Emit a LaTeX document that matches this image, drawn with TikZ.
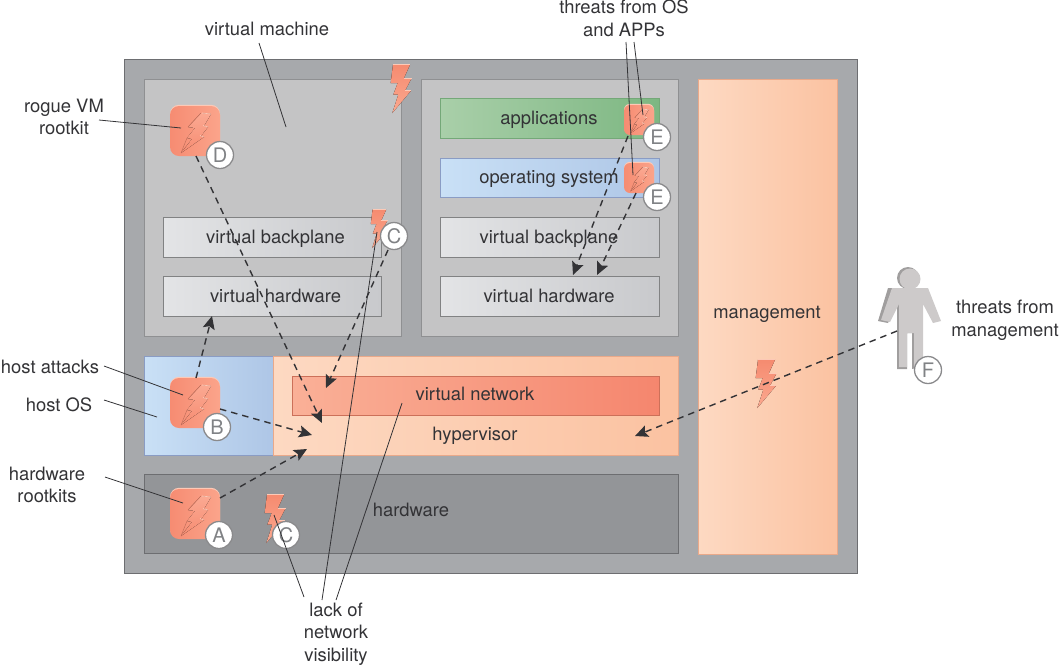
\documentclass[tikz,border=0pt]{standalone}
\usepackage{fontspec}
\setmainfont{TeX Gyre Heros}
\usetikzlibrary{arrows.meta}
\definecolor{ink}{HTML}{333336}
\definecolor{outerg}{HTML}{A7A9AC}
\definecolor{outerl}{HTML}{6D6E71}
\definecolor{vmg}{HTML}{C4C4C5}
\definecolor{vml}{HTML}{8F9092}
\tikzset{
  x=1pt,y=-1pt,
  every node/.style={font=\fontsize{18.4}{22.6}\selectfont,text=ink},
  box/.style={draw,line width=1pt,minimum height=0pt,minimum width=0pt,inner sep=0pt,anchor=north west},
  outerbox/.style={box,fill=outerg,draw=outerl,line width=1.2pt},
  vmbox/.style={box,fill=vmg,draw=vml,line width=1.2pt},
  planebox/.style={box,draw=vml!90!black,left color=HTMLplA,right color=HTMLplB},
  greenbox/.style={box,draw=HTMLgreenL,left color=HTMLgreenA,right color=HTMLgreenB},
  bluebox/.style={box,draw=HTMLblueL,left color=HTMLblueA,right color=HTMLblueB},
  peachbox/.style={box,draw=HTMLpeachL,left color=HTMLpeachA,right color=HTMLpeachB},
  netbox/.style={box,draw=HTMLnetL,left color=HTMLnetA,right color=HTMLnetB},
  hwbox/.style={box,fill=HTMLhw,draw=outerl,line width=1.2pt},
  shieldbox/.style={draw=none,rounded corners=#1,left color=HTMLshA,right color=HTMLshB,inner sep=0pt,
    preaction={fill=HTMLboltH,transform canvas={yshift=1.2pt}}},
  badge/.style={circle,draw=HTMLbadge,line width=1.3pt,fill=white,minimum size=27pt,inner sep=0pt,text=HTMLbadgeT,font=\fontsize{20}{20}\selectfont},
  lbl/.style={align=center,inner sep=1pt},
  leader/.style={draw=ink,line width=.8pt},
  threat/.style={draw=ink,line width=1.4pt,dash pattern=on 6.5pt off 5pt,-{Stealth[length=13pt,width=12pt,inset=2.5pt]}},
  bolt/.pic={
    \fill[bottom color=HTMLboltB,top color=HTMLboltA]
      (-8,-24.3)--(9,-24.3)--(3,-11)--(10.7,-11)--(4,1.7)--(10,1.7)--(-8.7,24)--(-2.7,5.7)--(-7.7,5.7)--(-3.3,-6)--(-10.3,-6)--cycle;
    \draw[HTMLboltH,line width=.6pt] (-8,-24.3)--(9,-24.3) (3,-11)--(10.7,-11) (4,1.7)--(10,1.7);
  },
  sbolt/.pic={
    \fill[bottom color=HTMLshA,top color=HTMLsbolt]
      (6,-18)--(16,-17)--(9,-5)--(13,-4)--(6,5)--(9,6)--(-14,22)--(-3,8)--(-8,7)--(0,-3)--(-7,-4)--cycle;
    \draw[HTMLboltH,line width=.7pt] (7,-18)--(16,-17) (8,-5.5)--(13,-4) (5,4.5)--(9,6);
    \draw[HTMLshA!80!black,line width=.5pt] (6,-18)--(-7,-4) (-8,7)--(-14,22);
  },
}
\definecolor{HTMLplA}{HTML}{E3E4E6}
\definecolor{HTMLplB}{HTML}{C8C9CC}
\definecolor{HTMLgreenA}{HTML}{A9CFA9}
\definecolor{HTMLgreenB}{HTML}{7DB782}
\definecolor{HTMLgreenL}{HTML}{74A878}
\definecolor{HTMLblueA}{HTML}{C9E0F6}
\definecolor{HTMLblueB}{HTML}{AEC6E6}
\definecolor{HTMLblueL}{HTML}{8A9CC4}
\definecolor{HTMLpeachA}{HTML}{FDD9C2}
\definecolor{HTMLpeachB}{HTML}{FBC2A1}
\definecolor{HTMLpeachL}{HTML}{E9A98A}
\definecolor{HTMLnetA}{HTML}{FAB097}
\definecolor{HTMLnetB}{HTML}{F5866E}
\definecolor{HTMLnetL}{HTML}{CC7059}
\definecolor{HTMLhw}{HTML}{939598}
\definecolor{HTMLshA}{HTML}{F68C72}
\definecolor{HTMLshB}{HTML}{FBA48B}
\definecolor{HTMLsbolt}{HTML}{FBA992}
\definecolor{HTMLboltA}{HTML}{F58B70}
\definecolor{HTMLboltB}{HTML}{FBA88F}
\definecolor{HTMLboltH}{HTML}{FDC9B6}
\definecolor{HTMLbadge}{HTML}{8A8A8C}
\definecolor{HTMLbadgeT}{HTML}{808285}
\definecolor{HTMLpA}{HTML}{CDCACA}
\definecolor{HTMLpB}{HTML}{A09E9E}
\begin{document}
\begin{tikzpicture}
\useasboundingbox (0,0) rectangle (1059,665);
% containers
\node[outerbox,minimum width=733pt,minimum height=514pt] (outer) at (124,59) {};
\node[vmbox,minimum width=257pt,minimum height=257pt] (vmA) at (144,79) {};
\node[vmbox,minimum width=257pt,minimum height=257pt] (vmB) at (421,79) {};
\node[peachbox,minimum width=139pt,minimum height=475pt] (mgmt) at (698,79) {};
\node[bluebox,minimum width=129pt,minimum height=99pt] (hostos) at (144,356) {};
\node[peachbox,minimum width=405pt,minimum height=99pt] (hyper) at (273,356) {};
\node[netbox,minimum width=367pt,minimum height=39pt] (vnet) at (292,376) {};
\node[hwbox,minimum width=534pt,minimum height=79pt] (hw) at (144,474) {};
\node[planebox,minimum width=218pt,minimum height=40pt] (vbA) at (163,217) {};
\node[planebox,minimum width=218pt,minimum height=40pt] (vhA) at (163,276) {};
\node[greenbox,minimum width=219pt,minimum height=40pt] (apps) at (440,98) {};
\node[bluebox,minimum width=219pt,minimum height=39pt] (os) at (440,158) {};
\node[planebox,minimum width=219pt,minimum height=40pt] (vbB) at (440,217) {};
\node[planebox,minimum width=219pt,minimum height=40pt] (vhB) at (440,276) {};
% box texts
\node (tvbA) at (275.5,238.5) {virtual backplane};
\node (tvhA) at (275.5,295.5) {virtual hardware};
\node (tapps) at (549,119.5) {applications};
\node (tos) at (549,178.5) {operating system};
\node (tvbB) at (549,238.5) {virtual backplane};
\node (tvhB) at (549,295.5) {virtual hardware};
\node (tnet) at (475,394) {virtual network};
\node (thyp) at (475,435.5) {hypervisor};
\node (thw) at (411,510) {hardware};
\node (tmg) at (767,314.5) {management};
% bolts
\pic at (401,89) {bolt};
\pic[scale=.8] at (379,229) {bolt};
\pic at (275,519) {bolt};
\pic at (766,384) {bolt};
% shields
\node[shieldbox=9pt,minimum size=50pt] (shD) at (195,131) {};
\node[shieldbox=9pt,minimum size=50pt] (shB) at (195,403) {};
\node[shieldbox=9pt,minimum size=50pt] (shA) at (195,514) {};
\node[shieldbox=6pt,minimum size=30pt] (shE) at (639,120) {};
\node[shieldbox=6pt,minimum size=30pt] (shG) at (639,178) {};
\pic at (195,131) {sbolt};
\pic at (195,403) {sbolt};
\pic at (195,514) {sbolt};
\pic[scale=.6] at (639,120) {sbolt};
\pic[scale=.6] at (639,178) {sbolt};
% person
\fill[HTMLpB] (888,288)--(925,288)--(920,304)--(920,367)--(912,369)--(912,333)--(907,333)--(907,369)--(897,369)--(897,304)--(888,323)--(878,321)--cycle;
\fill[HTMLpB] (908,278) circle (11);
\fill[HTMLpA] (892,288)--(928,288)--(941,321)--(933,323)--(923,304)--(923,369)--(914,369)--(914,333)--(907,333)--(907,367)--(899,367)--(899,304)--(890,322)--(881,320)--cycle;
\fill[HTMLpA] (910,279) circle (10.5);
% badges
\node[badge] (bD) at (220,155) {D};
\node[badge] (bB) at (217,427) {B};
\node[badge] (bA) at (219,535) {A};
\node[badge] (bC) at (286,535) {C};
\node[badge] (bC2) at (394,236) {C};
\node[badge] (bE) at (657,137) {E};
\node[badge] (bE2) at (657,197) {E};
\node[badge] (bF) at (928,370) {F};
% outer labels
\node[lbl] (lvm) at (267,29) {virtual machine};
\node[lbl] (lrog) at (64,117) {rogue VM\\rootkit};
\node[lbl] (lha) at (50,367) {host attacks};
\node[lbl] (lhos) at (59,405) {host OS};
\node[lbl] (lhr) at (47,485) {hardware\\rootkits};
\node[lbl] (lto) at (624,18) {threats from OS\\and APPs};
\node[lbl] (ltm) at (1005,320) {threats from\\management};
\node[lbl] (llack) at (336,634) {lack of\\network\\visibility};
% leader ends
\coordinate (a1) at (286,127);
\coordinate (a2) at (181,128);
\coordinate (a3) at (183,395);
\coordinate (a4) at (157,417);
\coordinate (a5) at (183,503);
\coordinate (a6) at (643,115);
\coordinate (a7) at (633,175);
\coordinate (a8) at (274,515);
\coordinate (a9) at (377,232);
\coordinate (a10) at (402,403);
\coordinate (s1) at (259,43);
\coordinate (s2) at (99,120);
\coordinate (s3) at (104,366);
\coordinate (s4) at (104,400);
\coordinate (s5) at (105,477);
\coordinate (s6) at (626,42);
\coordinate (s7) at (634,42);
\coordinate (s8) at (304,597);
\coordinate (s9) at (322,600);
\coordinate (s10) at (336,600);
\draw[leader] (s1)--(a1);
\draw[leader] (s2)--(a2);
\draw[leader] (s3)--(a3);
\draw[leader] (s4)--(a4);
\draw[leader] (s5)--(a5);
\draw[leader] (s7)--(a6);
\draw[leader] (s6)--(a7);
\draw[leader] (s8)--(a8);
\draw[leader] (s9)--(a9);
\draw[leader] (s10)--(a10);
% threat arrows
\coordinate (d0) at (196,156);
\coordinate (d1) at (322,423);
\coordinate (b0) at (196,378);
\coordinate (b1) at (212,316);
\coordinate (b2) at (220,409);
\coordinate (b3) at (312,435);
\coordinate (h0) at (220,498);
\coordinate (h1) at (307,449);
\coordinate (c0) at (388,250);
\coordinate (c1) at (326,388);
\coordinate (e0) at (628,136);
\coordinate (e1) at (573,275);
\coordinate (g0) at (636,193);
\coordinate (g1) at (597,275);
\coordinate (f0) at (897,331);
\coordinate (f1) at (635,436);
\draw[threat] (d0)--(d1);
\draw[threat] (b0)--(b1);
\draw[threat] (b2)--(b3);
\draw[threat] (h0)--(h1);
\draw[threat] (c0)--(c1);
\draw[threat] (e0)--(e1);
\draw[threat] (g0)--(g1);
\draw[threat] (f0)--(f1);
\end{tikzpicture}
\end{document}
